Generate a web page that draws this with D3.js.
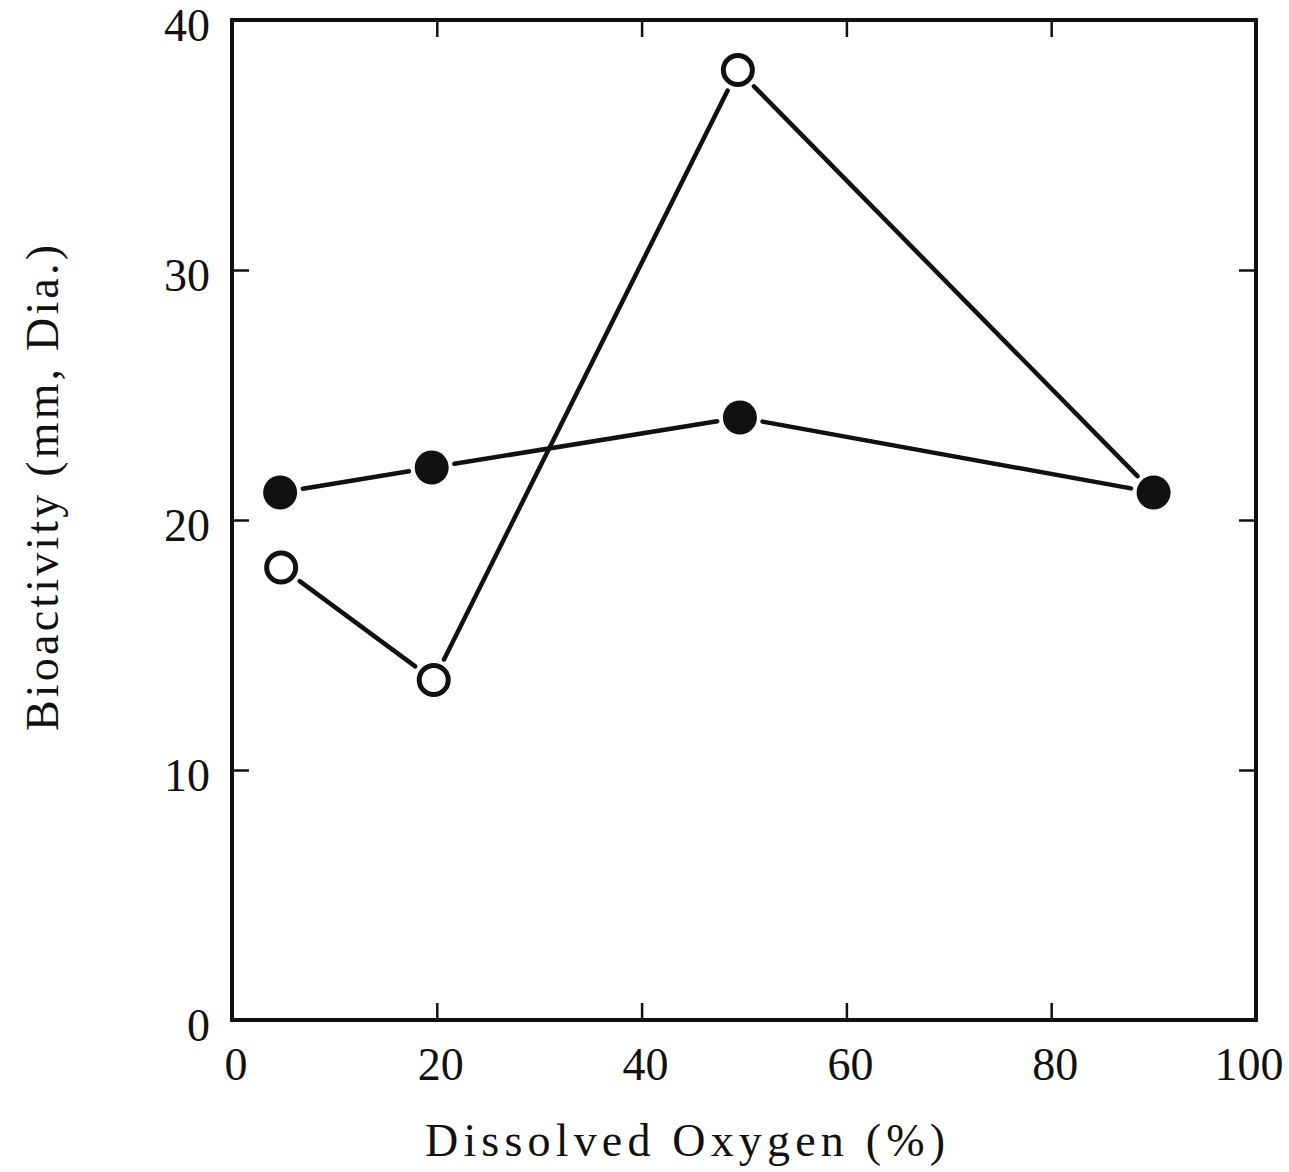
<!DOCTYPE html>
<html>
<head>
<meta charset="utf-8">
<script src="https://cdn.jsdelivr.net/npm/d3@7"></script>
<style>
  body { margin: 0; background: #fff; }
  text { font-family: "Liberation Serif", "DejaVu Serif", serif; fill: #111; }
</style>
</head>
<body>
<script>
// dissolved oxygen vs bioactivity

const width = 1289;
const height = 1172;
const margin = {top: 20, left: 232, bottom: 152, right: 33};

const xTicks = [0, 20, 40, 60, 80, 100];
const yTicks = [0, 10, 20, 30, 40];

// filled circles
const filledX = [4.7, 19.5, 49.6, 90];
const filledY = [21.1, 22.1, 24.1, 21.1];
// open circles
const openX = [4.8, 19.7, 49.4, 90];
const openY = [18.1, 13.6, 38.0, 21.1];

const filled = filledX.map((d, i) => ({x: d, y: filledY[i]}));
const open = openX.map((d, i) => ({x: d, y: openY[i]}));

const x = d3.scaleLinear()
    .domain([0, 100])
    .range([margin.left, width - margin.right]);

const y = d3.scaleLinear()
    .domain([0, 40])
    .range([height - margin.bottom, margin.top]);

const svg = d3.select('body').append('svg')
    .attr('width', width).attr('height', height);

const tickLen = 17;

// frame
svg.append('rect')
    .attr('x', x(0)).attr('y', y(40))
    .attr('width', x(100) - x(0)).attr('height', y(0) - y(40))
    .attr('fill', 'none').attr('stroke', '#111').attr('stroke-width', 4);

// inward ticks on all four sides
const xAxis = g => g
    .attr('transform', `translate(0, ${y(0)})`)
    .call(d3.axisTop(x).tickValues(xTicks.slice(1, -1)).tickSize(tickLen).tickFormat(''))
    .call(g => g.select('.domain').remove());
const xAxisTop = g => g
    .attr('transform', `translate(0, ${y(40)})`)
    .call(d3.axisBottom(x).tickValues(xTicks.slice(1, -1)).tickSize(tickLen).tickFormat(''))
    .call(g => g.select('.domain').remove());
const yAxis = g => g
    .attr('transform', `translate(${x(0)}, 0)`)
    .call(d3.axisRight(y).tickValues(yTicks.slice(1, -1)).tickSize(tickLen).tickFormat(''))
    .call(g => g.select('.domain').remove());
const yAxisRight = g => g
    .attr('transform', `translate(${x(100)}, 0)`)
    .call(d3.axisLeft(y).tickValues(yTicks.slice(1, -1)).tickSize(tickLen).tickFormat(''))
    .call(g => g.select('.domain').remove());

[xAxis, xAxisTop, yAxis, yAxisRight].forEach(a => {
    svg.append('g').call(a)
        .call(g => g.selectAll('line').attr('stroke', '#111').attr('stroke-width', 2.5));
});

// tick labels
svg.append('g').selectAll('text').data(xTicks).enter().append('text')
    .attr('x', d => Math.min(x(d) + 4, width - 40))
    .attr('y', y(0) + 60)
    .attr('text-anchor', 'middle')
    .style('font-size', '46px')
    .text(d => d);

svg.append('g').selectAll('text').data(yTicks).enter().append('text')
    .attr('x', x(0) - 22)
    .attr('y', d => y(d) + 21)
    .attr('text-anchor', 'end')
    .style('font-size', '46px')
    .text(d => d);

// axis titles
svg.append('text')
    .attr('x', 685)
    .attr('y', 1156)
    .attr('text-anchor', 'middle')
    .attr('textLength', 520)
    .attr('lengthAdjust', 'spacing')
    .style('font-size', '46px')
    .text('Dissolved Oxygen (%)');

svg.append('text')
    .attr('transform', `translate(58, 488) rotate(-90)`)
    .attr('text-anchor', 'middle')
    .attr('textLength', 486)
    .attr('lengthAdjust', 'spacing')
    .style('font-size', '46px')
    .text('Bioactivity (mm, Dia.)');

const r = 17;
const gap = 6;

// segments stop short of the markers
function drawSegments(data) {
    const segs = d3.pairs(data);
    svg.append('g').selectAll('line').data(segs).enter().append('line')
        .each(function([a, b]) {
            const x1 = x(a.x), y1 = y(a.y), x2 = x(b.x), y2 = y(b.y);
            const len = Math.hypot(x2 - x1, y2 - y1);
            const ux = (x2 - x1) / len, uy = (y2 - y1) / len;
            const off = r + gap;
            d3.select(this)
                .attr('x1', x1 + ux * off).attr('y1', y1 + uy * off)
                .attr('x2', x2 - ux * off).attr('y2', y2 - uy * off);
        })
        .attr('stroke', '#111')
        .attr('stroke-width', 4.5)
        .attr('stroke-linecap', 'round');
}

drawSegments(open);
drawSegments(filled);

// open markers (last one sits under the filled marker)
svg.append('g').selectAll('circle').data(open.slice(0, -1)).enter().append('circle')
    .attr('cx', d => x(d.x))
    .attr('cy', d => y(d.y))
    .attr('r', r - 2.5)
    .attr('fill', '#fff')
    .attr('stroke', '#111')
    .attr('stroke-width', 5);

svg.append('g').selectAll('circle').data(filled).enter().append('circle')
    .attr('cx', d => x(d.x))
    .attr('cy', d => y(d.y))
    .attr('r', r)
    .attr('fill', '#111');
</script>
</body>
</html>
